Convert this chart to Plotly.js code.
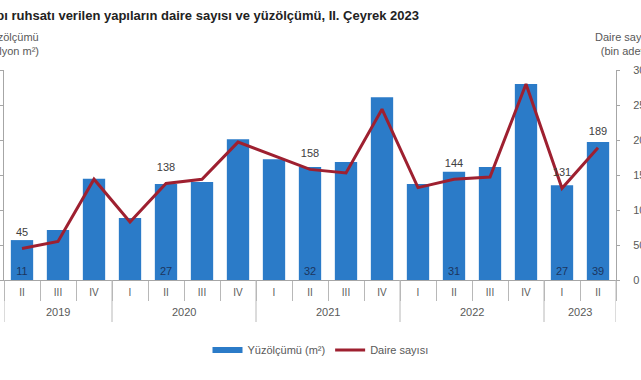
<!DOCTYPE html>
<html><head><meta charset="utf-8">
<script src="https://cdn.plot.ly/plotly-3.0.1.min.js"></script>
<style>html,body{margin:0;padding:0;background:#fff;} #chart{width:641px;height:380px;}</style>
</head><body><div id="chart"></div>
<script>
const years = ['2019','2019','2019','2020','2020','2020','2020','2021','2021','2021','2021','2022','2022','2022','2022','2023','2023'];
const quarters = ['II','III','IV','I','II','III','IV','I','II','III','IV','I','II','III','IV','I','II'];
const area = [11.4,14.3,28.9,17.7,27.4,28.0,40.2,34.5,32.3,33.7,52.2,27.4,30.9,32.3,56.0,27.1,39.4];
const dwellings = [45,55,144,83,138,144,197,177,158,153,244,132,144,147,280,131,189];

const cats = years.map((y,i) => y + '-' + quarters[i]);
const show = quarters.map((q,i) => q === 'II' || years[i] === '2023');
const areaText = area.map((v,i) => show[i] ? String(Math.round(v)) : '');
const dwText = dwellings.map((v,i) => show[i] ? String(Math.round(v)) : '');

// year groups (first/last index) derived from the data
const groups = [];
years.forEach((y,i) => {
  const g = groups[groups.length-1];
  if (g && g.year === y) g.last = i; else groups.push({year:y, first:i, last:i});
});

const BLUE = '#2b7bc8', RED = '#9e2030', GREY = '#595959', AX = '#a6a6a6', DIV = '#b8b8b8';
const FONT = 'Liberation Sans, Arial, sans-serif';

const traces = [
  {type:'bar', x:cats, y:area, yaxis:'y', marker:{color:BLUE},
   text:areaText, textposition:'inside', insidetextanchor:'start',
   textfont:{color:'#1c355e', size:11, family:FONT}, showlegend:false, hoverinfo:'skip'},
  {type:'scatter', mode:'lines', x:[cats[0]], y:[null], yaxis:'y',
   line:{color:BLUE, width:6}, name:'Yüzölçümü (m²)'},
  {type:'scatter', mode:'lines+markers+text', x:cats, y:dwellings, yaxis:'y2',
   line:{color:RED, width:3}, marker:{size:14, color:'rgba(0,0,0,0)'},
   text:dwText, textposition:'top center',
   textfont:{color:'#404040', size:11, family:FONT}, name:'Daire sayısı', cliponaxis:false}
];

const H = 210; // plot height in px
const shapes = [];
groups.forEach(g => shapes.push({type:'line', xref:'x', yref:'paper', x0:g.first-0.5, x1:g.first-0.5,
  y0:0, y1:-42/H, line:{color:DIV, width:1}}));
const lastG = groups[groups.length-1];
shapes.push({type:'line', xref:'x', yref:'paper', x0:lastG.last+0.5, x1:lastG.last+0.5,
  y0:0, y1:-42/H, line:{color:DIV, width:1}});

const annotations = groups.map(g => ({text:g.year, xref:'x', yref:'paper', x:(g.first+g.last)/2,
  y:-32/H, yanchor:'middle', showarrow:false, font:{size:11, color:GREY}}));
annotations.push(
  {text:'Yüzölçümü<br>(milyon m²)', xref:'paper', yref:'paper', x:(41-4)/612, xanchor:'right',
   y:1 + 26/H, yanchor:'middle', showarrow:false, align:'center', font:{size:11, color:GREY}},
  {text:'Daire sayısı<br>(bin adet)', xref:'paper', yref:'paper', x:(624-4)/612, xanchor:'center',
   y:1 + 26/H, yanchor:'middle', showarrow:false, align:'center', font:{size:11, color:GREY}}
);

const layout = {
  width:641, height:380,
  paper_bgcolor:'#fff', plot_bgcolor:'#fff',
  font:{family:FONT, color:GREY, size:10},
  margin:{l:4, r:25, t:70, b:100},
  bargap:0.38,
  title:{text:'<b>Yapı ruhsatı verilen yapıların daire sayısı ve yüzölçümü, II. Çeyrek 2023</b>',
         xref:'container', x:419/641, xanchor:'right', yref:'container', y:1-15/380, yanchor:'middle',
         font:{size:13, color:'#222', family:FONT}},
  xaxis:{type:'category', range:[-0.5, cats.length-0.5], tickvals:cats, ticktext:quarters,
         showline:true, linecolor:AX,
         ticks:'outside', tickson:'boundaries', ticklen:20, tickcolor:DIV,
         ticklabelstandoff:3, tickfont:{size:10, color:GREY}, showgrid:false},
  yaxis:{range:[0,60], dtick:10, showline:true, linecolor:AX, ticks:'outside', ticklen:4, tickcolor:AX,
         showgrid:false, zeroline:false, showticklabels:false},
  yaxis2:{range:[0,300], dtick:50, overlaying:'y', side:'right', showline:true, linecolor:AX,
          ticks:'outside', ticklen:3, tickcolor:AX, showgrid:false, zeroline:false,
          ticklabelstandoff:11, tickfont:{size:11, color:GREY}},
  legend:{orientation:'h', xref:'container', yref:'container', x:0.5, xanchor:'center', y:1-350/380, yanchor:'middle',
          font:{size:11, color:GREY}, itemwidth:30},
  shapes:shapes,
  annotations:annotations
};
Plotly.newPlot('chart', traces, layout, {displayModeBar:false, staticPlot:true});
</script></body></html>
